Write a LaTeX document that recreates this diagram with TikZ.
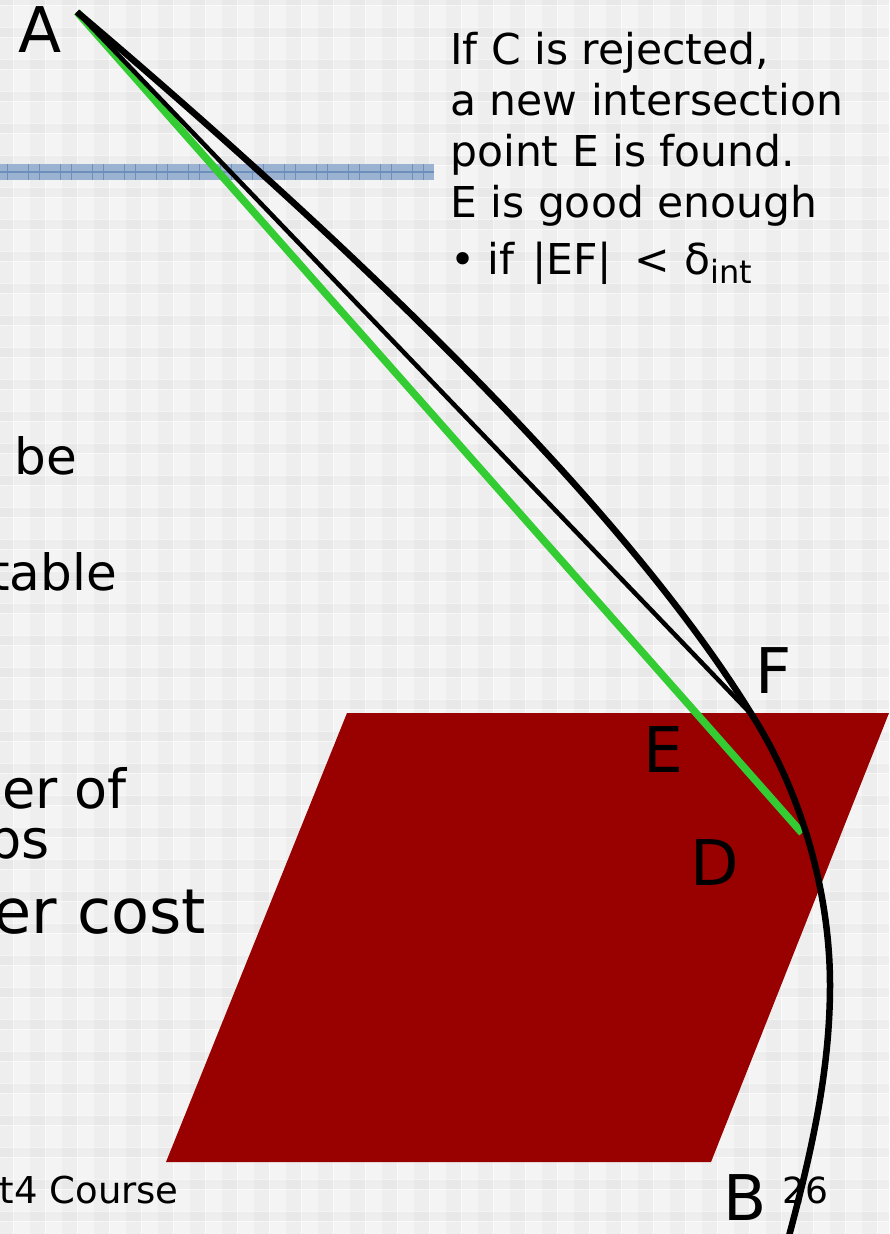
\documentclass[tikz,border=0pt]{standalone}
\usepackage{fontspec}
\setmainfont{DejaVu Sans}
\usepackage{xcolor}
\definecolor{plate}{HTML}{990000}
\definecolor{ray}{HTML}{33CC33}
\definecolor{barfill}{HTML}{9BB2D0}
\definecolor{bartick}{HTML}{6C8FBB}
\definecolor{paper}{HTML}{F4F4F4}
\newcommand{\pxfont}[1]{\fontsize{#1}{#1}\selectfont}

\begin{document}
\begin{tikzpicture}[
  x=1pt, y=-1pt,
  stripe/.style={fill=black, fill opacity=0.025},
  gridline/.style={draw=white, line width=0.9pt, opacity=0.55},
  lbl/.style={anchor=base west, inner sep=0pt, font=\pxfont{63}},
  txt/.style={anchor=base west, inner sep=0pt, font=\pxfont{42.5}},
  cut/.style={anchor=base east, inner sep=0pt}
]
  \useasboundingbox (0, 0) rectangle (889, 1234);
  \fill[paper] (0, 0) rectangle (889, 1234);

  % background plaid
  \foreach \k in {-1,...,27} {
    \fill[stripe] ({30+32*\k}, 0) rectangle ({45+32*\k}, 1234);
    \draw[gridline] ({13+32*\k}, 0) -- ({13+32*\k}, 1234);
  }
  \foreach \k in {-1,...,38} {
    \fill[stripe] (0, {27+32*\k}) rectangle (889, {37+32*\k});
    \draw[gridline] (0, {27+32*\k}) -- (889, {27+32*\k});
    \draw[gridline] (0, {37+32*\k}) -- (889, {37+32*\k});
  }

  % blue bar
  \fill[barfill] (0, 164) rectangle (434, 180);
  \draw[bartick, line width=1.5pt] (0, 172) -- (434, 172);
  \foreach \k in {-1,...,12} {
    \draw[bartick, line width=0.8pt] ({28+32*\k}, 164) -- ({28+32*\k}, 180);
    \draw[bartick, line width=0.8pt] ({39+32*\k}, 164) -- ({39+32*\k}, 180);
  }

  % plane
  \fill[plate] (347, 713) -- (889, 713) -- (711, 1162) -- (166, 1162) -- cycle;

  \coordinate (pA) at (77, 12);
  \coordinate (pF) at (752, 715);
  \coordinate (pD) at (802, 833);
  \coordinate (pB) at (789, 1236);

  \draw[ray, line width=7.5pt] (pA) -- (pD);
  \draw[black, line width=4.5pt] (pA) -- (pF);
  \draw[black, line width=6.5pt] (pA)
    .. controls (340, 235) and (620, 500) .. (pF)
    .. controls (800, 790) and (830, 890) .. (830, 985)
    .. controls (830, 1070) and (812, 1150) .. (pB);

  \node[lbl] (labelA) at (18, 52) {A};
  \node[lbl] (labelF) at (755, 693) {F};
  \node[lbl] (labelE) at (643, 772) {E};
  \node[lbl] (labelD) at (690, 885) {D};
  \node[lbl] (labelB) at (723, 1220) {B};

  \node[txt] (note1) at (450, 64) {If C is rejected,};
  \node[txt] (note2) at (450, 115) {a new intersection};
  \node[txt] (note3) at (450, 166) {point E is found.};
  \node[txt] (note4) at (450, 217) {E is good enough};
  \node[txt] (note5) at (450, 274) {•\hspace{12pt}if\hspace{18pt}|EF|\hspace{23pt}<\hspace{14pt}δ\raisebox{-9pt}{\pxfont{32}int}};

  \node[cut, font=\pxfont{50}] (cutbe) at (77, 474) {be};
  \node[cut, font=\pxfont{50}] (cuttable) at (117, 590) {table};
  \node[cut, font=\pxfont{54}] (cutof) at (127, 808) {er of};
  \node[cut, font=\pxfont{54}] (cutps) at (50, 858) {ps};
  \node[cut, font=\pxfont{62}] (cutcost) at (206, 933) {er cost};
  \node[cut, font=\pxfont{37}] (footer) at (179, 1203) {t4 Course};
  \node[anchor=base west, inner sep=0pt, font=\pxfont{36}] (pagenum) at (782, 1203) {26};
\end{tikzpicture}
\end{document}
